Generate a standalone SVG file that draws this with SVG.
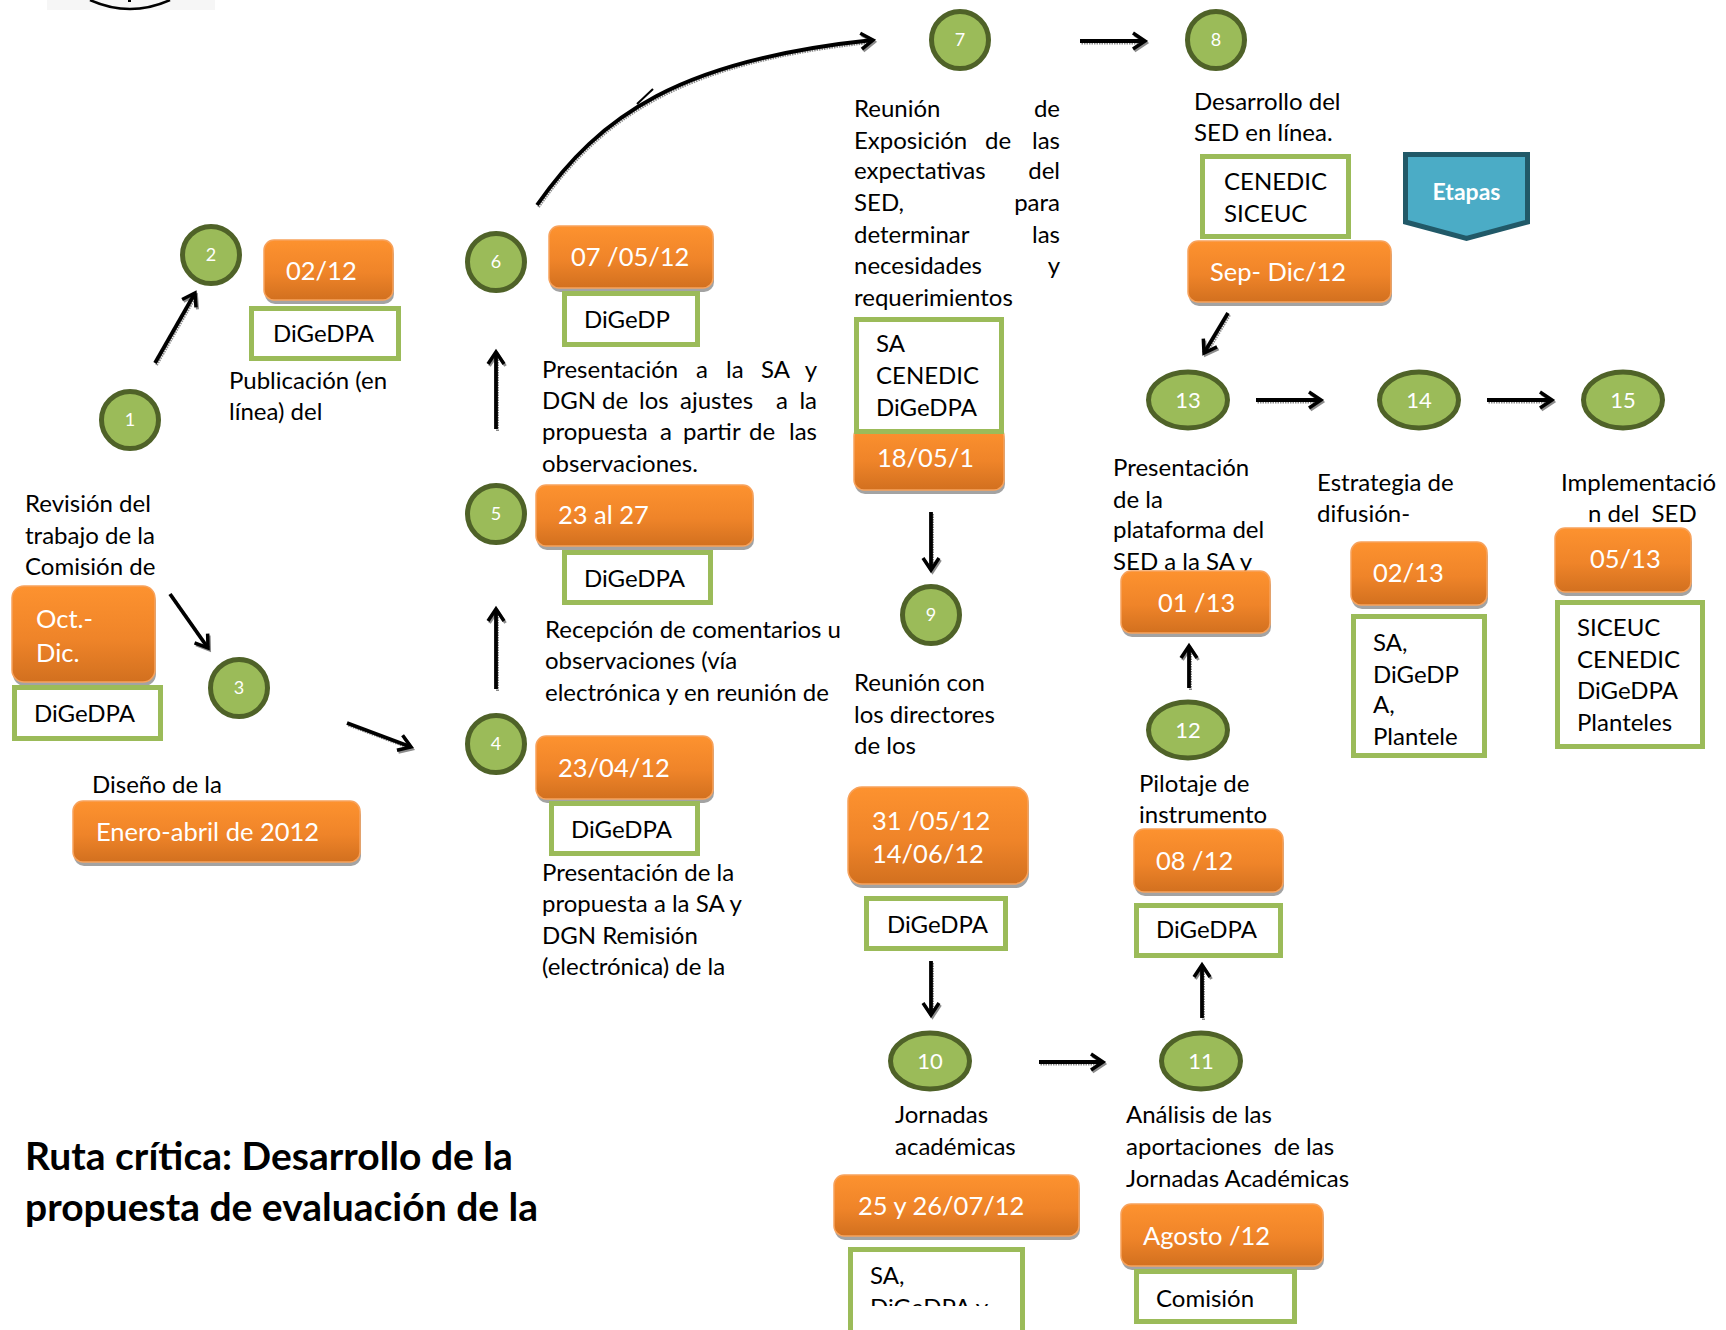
<svg xmlns="http://www.w3.org/2000/svg" width="1726" height="1330" viewBox="0 0 1726 1330">
<style>
.t{font-family:Lato,'Liberation Sans',sans-serif;font-size:24px;fill:#000}
.d{font-family:Lato,'Liberation Sans',sans-serif;font-size:25.5px;fill:#fff}
.n{font-family:Lato,'Liberation Sans',sans-serif;font-size:18px;fill:#fff;text-anchor:middle}
.ne{font-family:Lato,'Liberation Sans',sans-serif;font-size:22px;fill:#fff;text-anchor:middle}
.e{text-anchor:end}
.nc{fill:#9bbb59;stroke:#4f6228;stroke-width:5}
.ob{fill:url(#og);stroke:#f7a25c;stroke-width:1.5}
.obs{fill:#a3a3a3}
.gb{fill:#fff;stroke:#9bbb59;stroke-width:5}
.arr path{fill:none;stroke:#000;stroke-width:3.8;marker-end:url(#ah)}
.sh path{fill:none;stroke:#8c8c8c;stroke-width:3;stroke-dasharray:1.5 1;marker-end:url(#ahs)}
.title{font-family:Lato,'Liberation Sans',sans-serif;font-weight:bold;font-size:39px;fill:#000}
</style>
<defs>
<linearGradient id="og" x1="0" y1="0" x2="0" y2="1">
<stop offset="0" stop-color="#fd922f"/>
<stop offset="0.55" stop-color="#ef8429"/>
<stop offset="1" stop-color="#d2701f"/>
</linearGradient>
<marker id="ah" markerUnits="userSpaceOnUse" markerWidth="22" markerHeight="22" viewBox="0 0 22 22" refX="18" refY="11" orient="auto">
<path d="M6,3 L18,11 L6,19" fill="none" stroke="#000" stroke-width="3.5"/>
</marker>
<marker id="ahs" markerUnits="userSpaceOnUse" markerWidth="22" markerHeight="22" viewBox="0 0 22 22" refX="18" refY="11" orient="auto">
<path d="M6,3 L18,11 L6,19" fill="none" stroke="#8c8c8c" stroke-width="3"/>
</marker>
<clipPath id="clipSA"><rect x="850" y="1250" width="172" height="56"/></clipPath>
</defs>
<rect width="1726" height="1330" fill="#fff"/>

<g id="fragment">
<rect x="47" y="0" width="168" height="10" fill="#f6f6f6"/>
<path d="M90 0 Q130 18 170 0" fill="none" stroke="#000" stroke-width="2.5"/>
<rect x="128" y="0" width="3" height="2" fill="#000"/>
</g>

<g id="connectors">
<g class="sh" transform="translate(1.5,2)">
<path d="M155 363 L195 293"/>
<path d="M170 594 L208 648"/>
<path d="M347 723 L411 747"/>
<path d="M496 689 L496 609"/>
<path d="M496 429 L496 352"/>
<path d="M537 205 C600 115 680 60 873 40"/>
<path d="M1080 41 L1145 41"/>
<path d="M1228 313 L1204 353"/>
<path d="M1256 400 L1321 400"/>
<path d="M1487 400 L1552 400"/>
<path d="M931 512 L931 570"/>
<path d="M931 961 L931 1015"/>
<path d="M1039 1062 L1103 1062"/>
<path d="M1202 1018 L1202 965"/>
<path d="M1189 688 L1189 646"/>
</g>
<g class="arr">
<path d="M155 363 L195 293"/>
<path d="M170 594 L208 648"/>
<path d="M347 723 L411 747"/>
<path d="M496 689 L496 609"/>
<path d="M496 429 L496 352"/>
<path d="M537 205 C600 115 680 60 873 40"/>
<path d="M1080 41 L1145 41"/>
<path d="M1228 313 L1204 353"/>
<path d="M1256 400 L1321 400"/>
<path d="M1487 400 L1552 400"/>
<path d="M931 512 L931 570"/>
<path d="M931 961 L931 1015"/>
<path d="M1039 1062 L1103 1062"/>
<path d="M1202 1018 L1202 965"/>
<path d="M1189 688 L1189 646"/>
</g>
<path d="M653 89 L637 104" fill="none" stroke="#000" stroke-width="2"/>
</g>

<g id="step1">
<circle class="nc" cx="130" cy="420" r="28.5"/>
<text class="n" x="130" y="426">1</text>
<text class="t" x="25" y="512">Revisión del</text>
<text class="t" x="25" y="544">trabajo de la</text>
<text class="t" x="25" y="575">Comisión de</text>
<rect class="obs" x="13" y="590" width="143" height="96" rx="12"/>
<rect class="ob" x="12" y="586" width="143" height="96" rx="12"/>
<text class="d" x="36" y="628">Oct.-</text>
<text class="d" x="36" y="662">Dic.</text>
<rect class="gb" x="14.5" y="687.5" width="146" height="51"/>
<text class="t" x="34" y="722">DiGeDPA</text>
</g>

<g id="step2">
<circle class="nc" cx="211" cy="255" r="28.5"/>
<text class="n" x="211" y="261">2</text>
<rect class="obs" x="265" y="244" width="129" height="60" rx="10"/>
<rect class="ob" x="264" y="240" width="129" height="60" rx="10"/>
<text class="d" x="286" y="280">02/12</text>
<rect class="gb" x="251.5" y="308.5" width="147" height="50"/>
<text class="t" x="273" y="342">DiGeDPA</text>
<text class="t" x="229" y="389">Publicación (en</text>
<text class="t" x="229" y="420">línea) del</text>
</g>

<g id="step3">
<circle class="nc" cx="239" cy="688" r="28.5"/>
<text class="n" x="239" y="694">3</text>
<text class="t" x="92" y="793">Diseño de la</text>
<rect class="obs" x="74" y="805" width="287" height="61" rx="10"/>
<rect class="ob" x="73" y="801" width="287" height="61" rx="10"/>
<text class="d" x="96" y="841">Enero-abril de 2012</text>
</g>

<g id="step4">
<circle class="nc" cx="496" cy="744" r="28.5"/>
<text class="n" x="496" y="750">4</text>
<rect class="obs" x="537" y="740" width="177" height="63" rx="10"/>
<rect class="ob" x="536" y="736" width="177" height="63" rx="10"/>
<text class="d" x="558" y="777">23/04/12</text>
<rect class="gb" x="551.5" y="803.5" width="146" height="50"/>
<text class="t" x="571" y="838">DiGeDPA</text>
<text class="t" x="542" y="881">Presentación de la</text>
<text class="t" x="542" y="912">propuesta a la SA y</text>
<text class="t" x="542" y="944">DGN Remisión</text>
<text class="t" x="542" y="975">(electrónica) de la</text>
</g>

<g id="step5">
<circle class="nc" cx="496" cy="514" r="28.5"/>
<text class="n" x="496" y="520">5</text>
<rect class="obs" x="537" y="489" width="217" height="61" rx="10"/>
<rect class="ob" x="536" y="485" width="217" height="61" rx="10"/>
<text class="d" x="558" y="524">23 al 27</text>
<rect class="gb" x="564.5" y="552.5" width="146" height="50"/>
<text class="t" x="584" y="587">DiGeDPA</text>
<text class="t" x="545" y="638">Recepción de comentarios u</text>
<text class="t" x="545" y="669">observaciones (vía</text>
<text class="t" x="545" y="701">electrónica y en reunión de</text>
</g>

<g id="step6">
<circle class="nc" cx="496" cy="262" r="28.5"/>
<text class="n" x="496" y="268">6</text>
<rect class="obs" x="550" y="230" width="164" height="62" rx="10"/>
<rect class="ob" x="549" y="226" width="164" height="62" rx="10"/>
<text class="d" x="571" y="266">07 /05/12</text>
<rect class="gb" x="564.5" y="293.5" width="133" height="51"/>
<text class="t" x="584" y="328">DiGeDP</text>
<text class="t" x="542" y="378">Presentación</text>
<text class="t" x="696" y="378">a</text>
<text class="t" x="726" y="378">la</text>
<text class="t" x="761" y="378">SA</text>
<text class="t e" x="817" y="378">y</text>
<text class="t" x="542" y="409">DGN</text>
<text class="t" x="602" y="409">de</text>
<text class="t" x="639" y="409">los</text>
<text class="t" x="680" y="409">ajustes</text>
<text class="t" x="776" y="409">a</text>
<text class="t e" x="817" y="409">la</text>
<text class="t" x="542" y="440">propuesta</text>
<text class="t" x="660" y="440">a</text>
<text class="t" x="683" y="440">partir</text>
<text class="t" x="749" y="440">de</text>
<text class="t e" x="817" y="440">las</text>
<text class="t" x="542" y="472">observaciones.</text>
</g>

<g id="step7">
<circle class="nc" cx="960" cy="40" r="28.5"/>
<text class="n" x="960" y="46">7</text>
<text class="t" x="854" y="117">Reunión</text>
<text class="t e" x="1060" y="117">de</text>
<text class="t" x="854" y="149">Exposición</text>
<text class="t" x="985" y="149">de</text>
<text class="t e" x="1060" y="149">las</text>
<text class="t" x="854" y="179">expectativas</text>
<text class="t e" x="1060" y="179">del</text>
<text class="t" x="854" y="211">SED,</text>
<text class="t e" x="1060" y="211">para</text>
<text class="t" x="854" y="243">determinar</text>
<text class="t e" x="1060" y="243">las</text>
<text class="t" x="854" y="274">necesidades</text>
<text class="t e" x="1060" y="274">y</text>
<text class="t" x="854" y="306">requerimientos</text>
<rect class="obs" x="855" y="430" width="150" height="64" rx="10"/>
<rect class="ob" x="854" y="426" width="150" height="64" rx="10"/>
<text class="d" x="877" y="467">18/05/1</text>
<rect class="gb" x="856.5" y="319.5" width="145" height="112"/>
<text class="t" x="876" y="352">SA</text>
<text class="t" x="876" y="384">CENEDIC</text>
<text class="t" x="876" y="416">DiGeDPA</text>
</g>

<g id="step8">
<circle class="nc" cx="1216" cy="40" r="28.5"/>
<text class="n" x="1216" y="46">8</text>
<text class="t" x="1194" y="110">Desarrollo del</text>
<text class="t" x="1194" y="141">SED en línea.</text>
<rect class="gb" x="1202.5" y="156.5" width="146" height="80"/>
<text class="t" x="1224" y="190">CENEDIC</text>
<text class="t" x="1224" y="222">SICEUC</text>
<rect class="obs" x="1189" y="245" width="203" height="61" rx="10"/>
<rect class="ob" x="1188" y="241" width="203" height="61" rx="10"/>
<text class="d" x="1210" y="281">Sep- Dic/12</text>
</g>

<g id="step9">
<circle class="nc" cx="931" cy="615" r="28.5"/>
<text class="n" x="931" y="621">9</text>
<text class="t" x="854" y="691">Reunión con</text>
<text class="t" x="854" y="723">los directores</text>
<text class="t" x="854" y="754">de los</text>
<rect class="obs" x="849" y="791" width="180" height="97" rx="14"/>
<rect class="ob" x="848" y="787" width="180" height="97" rx="14"/>
<text class="d" x="872" y="830">31 /05/12</text>
<text class="d" x="872" y="863">14/06/12</text>
<rect class="gb" x="866.5" y="898.5" width="139" height="50"/>
<text class="t" x="887" y="933">DiGeDPA</text>
</g>

<g id="step10">
<ellipse class="nc" cx="930" cy="1061" rx="39.5" ry="28"/>
<text class="ne" x="930" y="1069">10</text>
<text class="t" x="895" y="1123">Jornadas</text>
<text class="t" x="895" y="1155">académicas</text>
<rect class="obs" x="835" y="1179" width="245" height="61" rx="10"/>
<rect class="ob" x="834" y="1175" width="245" height="61" rx="10"/>
<text class="d" x="858" y="1215">25 y 26/07/12</text>
<rect class="gb" x="850.5" y="1249.5" width="172" height="95"/>
<g clip-path="url(#clipSA)">
<text class="t" x="870" y="1284">SA,</text>
<text class="t" x="870" y="1316">DiGeDPA y</text>
</g>
</g>

<g id="step11">
<ellipse class="nc" cx="1201" cy="1061" rx="39.5" ry="28"/>
<text class="ne" x="1201" y="1069">11</text>
<text class="t" x="1126" y="1123">Análisis de las</text>
<text class="t" x="1126" y="1155">aportaciones&#160; de las</text>
<text class="t" x="1126" y="1187">Jornadas Académicas</text>
<rect class="obs" x="1122" y="1208" width="202" height="62" rx="10"/>
<rect class="ob" x="1121" y="1204" width="202" height="62" rx="10"/>
<text class="d" x="1143" y="1245">Agosto /12</text>
<rect class="gb" x="1136.5" y="1271.5" width="158" height="50"/>
<text class="t" x="1156" y="1307">Comisión</text>
</g>

<g id="step12">
<ellipse class="nc" cx="1188" cy="730" rx="39.5" ry="28"/>
<text class="ne" x="1188" y="738">12</text>
<text class="t" x="1139" y="792">Pilotaje de</text>
<text class="t" x="1139" y="823">instrumento</text>
<rect class="obs" x="1135" y="833" width="149" height="63" rx="10"/>
<rect class="ob" x="1134" y="829" width="149" height="63" rx="10"/>
<text class="d" x="1156" y="870">08 /12</text>
<rect class="gb" x="1136.5" y="905.5" width="144" height="50"/>
<text class="t" x="1156" y="938">DiGeDPA</text>
</g>

<g id="step13">
<ellipse class="nc" cx="1188" cy="400" rx="39.5" ry="28"/>
<text class="ne" x="1188" y="408">13</text>
<text class="t" x="1113" y="476">Presentación</text>
<text class="t" x="1113" y="508">de la</text>
<text class="t" x="1113" y="538">plataforma del</text>
<text class="t" x="1113" y="570">SED a la SA y</text>
<rect class="obs" x="1122" y="575" width="149" height="62" rx="10"/>
<rect class="ob" x="1121" y="571" width="149" height="62" rx="10"/>
<text class="d" x="1158" y="612">01 /13</text>
</g>

<g id="step14">
<ellipse class="nc" cx="1419" cy="400" rx="39.5" ry="28"/>
<text class="ne" x="1419" y="408">14</text>
<text class="t" x="1317" y="491">Estrategia de</text>
<text class="t" x="1317" y="522">difusión-</text>
<rect class="obs" x="1352" y="546" width="136" height="63" rx="10"/>
<rect class="ob" x="1351" y="542" width="136" height="63" rx="10"/>
<text class="d" x="1373" y="582">02/13</text>
<rect class="gb" x="1353.5" y="616.5" width="131" height="139"/>
<text class="t" x="1373" y="651">SA,</text>
<text class="t" x="1373" y="683">DiGeDP</text>
<text class="t" x="1373" y="713">A,</text>
<text class="t" x="1373" y="745">Plantele</text>
</g>

<g id="step15">
<ellipse class="nc" cx="1623" cy="400" rx="39.5" ry="28"/>
<text class="ne" x="1623" y="408">15</text>
<text class="t" x="1561" y="491">Implementació</text>
<text class="t" x="1588" y="522">n del&#160; SED</text>
<rect class="obs" x="1556" y="532" width="136" height="64" rx="10"/>
<rect class="ob" x="1555" y="528" width="136" height="64" rx="10"/>
<text class="d" x="1590" y="568">05/13</text>
<rect class="gb" x="1557.5" y="602.5" width="145" height="144"/>
<text class="t" x="1577" y="636">SICEUC</text>
<text class="t" x="1577" y="668">CENEDIC</text>
<text class="t" x="1577" y="699">DiGeDPA</text>
<text class="t" x="1577" y="731">Planteles</text>
</g>

<g id="etapas">
<polygon points="1405.5,154.5 1527.5,154.5 1527.5,222 1466.5,238.5 1405.5,222" fill="#4bacc6" stroke="#215968" stroke-width="5" stroke-linejoin="miter"/>
<text x="1466.5" y="200" text-anchor="middle" font-family="Lato,'Liberation Sans',sans-serif" font-weight="bold" font-size="23" fill="#fff">Etapas</text>
</g>

<g id="title">
<text class="title" x="25" y="1170">Ruta crítica: Desarrollo de la</text>
<text class="title" x="25" y="1221">propuesta de evaluación de la</text>
</g>
</svg>
